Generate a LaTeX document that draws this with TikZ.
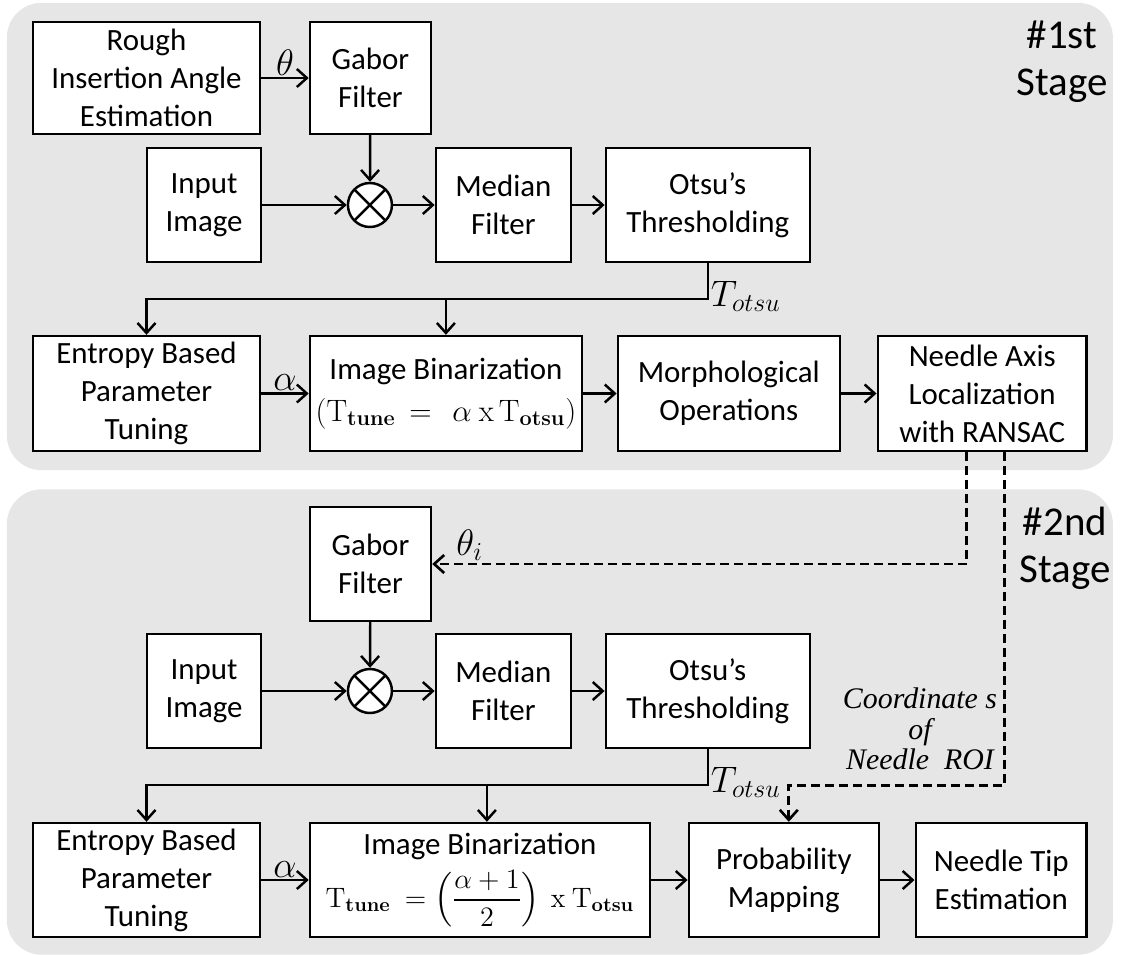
\RequirePackage{fix-cm}
\documentclass[tikz,border=0pt]{standalone}
\usepackage[no-math]{fontspec}
\usepackage{amsmath}
\setmainfont{Carlito}
\newfontfamily\roifont{Liberation Serif}
\usetikzlibrary{arrows.meta,positioning,fit,backgrounds,calc}
\definecolor{cPanel}{RGB}{230,230,230}
\definecolor{cLine} {RGB}{  0,  0,  0}

\begin{document}
\begin{tikzpicture}[
  x=0.02cm, y=-0.02cm,
  node distance = 1.0cm,
  %% ── plain white block ─────────────────────────────────────────────────
  B/.style={
    draw=cLine, fill=white, line width=1.4pt,
    align=center, inner sep=2pt,
    font=\fontsize{17.6}{21.6}\selectfont
  },
  %% ── multiplier ────────────────────────────────────────────────────────
  M/.style={
    circle, draw=cLine, fill=white, line width=1.4pt,
    minimum size=0.88cm, inner sep=0pt,
    path picture={
      \draw[line width=1.4pt]
        (path picture bounding box.north west) -- (path picture bounding box.south east)
        (path picture bounding box.north east) -- (path picture bounding box.south west);
    }
  },
  %% ── main arrow ────────────────────────────────────────────────────────
  A/.style={-{Straight Barb[length=2mm,width=3.6mm]}, line width=1.4pt},
  %% ── dashed feedback arrow ─────────────────────────────────────────────
  D/.style={-{Straight Barb[length=2mm,width=3.6mm]}, line width=1.5pt,
            dash pattern=on 1.8mm off 1mm},
  %% ── math label on arrow ───────────────────────────────────────────────
  L/.style={font=\fontsize{21}{24}\selectfont, inner sep=1pt},
  %% ── stage title ───────────────────────────────────────────────────────
  T/.style={font=\fontsize{23.3}{26.7}\selectfont, align=center},
]

\useasboundingbox (0,0) rectangle (1125,954);

%% ═══════════════════════════════════════════════════════════════════════
%%  1ST STAGE
%% ═══════════════════════════════════════════════════════════════════════

\node[B, minimum width=4.54cm, minimum height=2.24cm] (rough) at (146.5,78) {%
  Rough\\Insertion Angle\\Estimation};

\node[B, minimum width=2.42cm, minimum height=2.24cm, right=0.95cm of rough] (gabor) {%
  Gabor\\Filter};

\node[B, minimum width=2.28cm, minimum height=2.28cm] (input) at (204,205) {%
  Input\\Image};

\node[M, right=1.69cm of input] (mix) {};

\node[B, minimum width=2.70cm, minimum height=2.28cm, right=0.83cm of mix] (median) {%
  Median\\Filter};

\node[B, minimum width=4.08cm, minimum height=2.28cm, right=0.65cm of median] (otsu) {%
  Otsu's\\Thresholding};

\node[B, minimum width=4.54cm, minimum height=2.30cm] (entropy) at (146.5,393.5) {%
  Entropy Based\\Parameter\\Tuning};

\node[B, minimum width=5.44cm, minimum height=2.30cm, right=0.95cm of entropy] (imbin) {%
  Image Binarization\\[2pt]
  $(\mathrm{T}_{\mathbf{tune}}\,=\ \,\alpha\ \mathrm{x}\,\mathrm{T}_{\mathbf{otsu}})$};

\node[B, minimum width=4.44cm, minimum height=2.30cm, right=0.67cm of imbin] (morph) {%
  Morphological\\Operations};

\node[B, minimum width=4.18cm, minimum height=2.30cm, right=0.71cm of morph] (needle) {%
  Needle Axis\\Localization\\with RANSAC};

\node[T] (stage1) at (1062,62) {\#1st\\Stage};

%% ═══════════════════════════════════════════════════════════════════════
%%  2ND STAGE
%% ═══════════════════════════════════════════════════════════════════════

\node[B, minimum width=2.42cm, minimum height=2.28cm] (gabor2) at (370.5,564) {%
  Gabor\\Filter};

\node[B, minimum width=2.28cm, minimum height=2.28cm] (input2) at (204,691) {%
  Input\\Image};

\node[M, right=1.69cm of input2] (mix2) {};

\node[B, minimum width=2.70cm, minimum height=2.28cm, right=0.83cm of mix2] (median2) {%
  Median\\Filter};

\node[B, minimum width=4.08cm, minimum height=2.28cm, right=0.65cm of median2] (otsu2) {%
  Otsu's\\Thresholding};

\node[B, minimum width=4.54cm, minimum height=2.28cm] (entropy2) at (146.5,880) {%
  Entropy Based\\Parameter\\Tuning};

\node[B, minimum width=6.80cm, minimum height=2.28cm, right=0.95cm of entropy2] (imbin2) {%
  Image Binarization\\[5pt]
  {\fontsize{16}{19}\selectfont
  $\mathrm{T}_{\mathbf{tune}}\ =\left(\dfrac{\alpha+1}{2}\right)\ \mathrm{x}\ \mathrm{T}_{\mathbf{otsu}}$}};

\node[B, minimum width=3.80cm, minimum height=2.28cm, right=0.73cm of imbin2] (prob) {%
  Probability\\Mapping};

\node[B, minimum width=3.42cm, minimum height=2.28cm, right=0.69cm of prob] (tip) {%
  Needle Tip\\Estimation};

\node[T] (stage2) at (1065,548) {\#2nd\\Stage};

\node[font=\roifont\itshape\fontsize{17}{17.5}\selectfont, align=center]
  (roi) at (920,729) {Coordinate s\\of\\Needle\ \ ROI};

%% ═══════════════════════════════════════════════════════════════════════
%%  ARROWS  (1st stage)
%% ═══════════════════════════════════════════════════════════════════════

\draw[A] (rough)  -- node[L,above]{$\theta$} (gabor);
\draw[A] (gabor)  -- (mix);
\draw[A] (input)  -- (mix);
\draw[A] (mix)    -- (median);
\draw[A] (median) -- (otsu);

\coordinate (bus1) at ([yshift=-0.72cm]otsu.south);
\draw[A] (otsu.south) -- (bus1) -| (entropy.north);
\draw[A] (bus1 -| imbin.north) -- (imbin.north);
\node[L] (totsu1) at ([shift={(38,33)}]otsu.south) {$T_{otsu}$};

\draw[A] (entropy) -- node[L,above]{$\alpha$} (imbin);
\draw[A] (imbin)   -- (morph);
\draw[A] (morph)   -- (needle);

%% ═══════════════════════════════════════════════════════════════════════
%%  ARROWS  (2nd stage)
%% ═══════════════════════════════════════════════════════════════════════

\draw[A] (gabor2)  -- (mix2);
\draw[A] (input2)  -- (mix2);
\draw[A] (mix2)    -- (median2);
\draw[A] (median2) -- (otsu2);

\coordinate (bus2) at ([yshift=-0.72cm]otsu2.south);
\draw[A] (otsu2.south) -- (bus2) -| (entropy2.north);
\draw[A] ([xshift=0.14cm]bus2 -| imbin2.north) -- ([xshift=0.14cm]imbin2.north);
\node[L] (totsu2) at ([shift={(38,33)}]otsu2.south) {$T_{otsu}$};

\draw[A] (entropy2) -- node[L,above]{$\alpha$} (imbin2);
\draw[A] (imbin2)   -- (prob);
\draw[A] (prob)     -- (tip);

%% ═══════════════════════════════════════════════════════════════════════
%%  FEEDBACK  (dashed)
%% ═══════════════════════════════════════════════════════════════════════

\draw[D] ([xshift=-0.31cm]needle.south) |-
  node[L,above,pos=0.965]{$\theta_i$} (gabor2.east);

\coordinate (roiturn) at ([xshift=0.45cm]needle.south |- bus2);
\draw[D] ([xshift=0.45cm]needle.south) -- (roiturn) -| ([xshift=0.1cm]prob.north);

%% ═══════════════════════════════════════════════════════════════════════
%%  BACKGROUND PANELS
%% ═══════════════════════════════════════════════════════════════════════

\begin{scope}[on background layer]
  \node[fill=cPanel, rounded corners=0.7cm,
        inner xsep=0.5cm, inner ysep=0.36cm,
        fit=(rough)(needle)] (P1) {};
  \node[fill=cPanel, rounded corners=0.7cm,
        inner xsep=0.5cm, inner ysep=0.33cm,
        fit=(gabor2)(entropy2)(tip)] (P2) {};
\end{scope}

\end{tikzpicture}
\end{document}
